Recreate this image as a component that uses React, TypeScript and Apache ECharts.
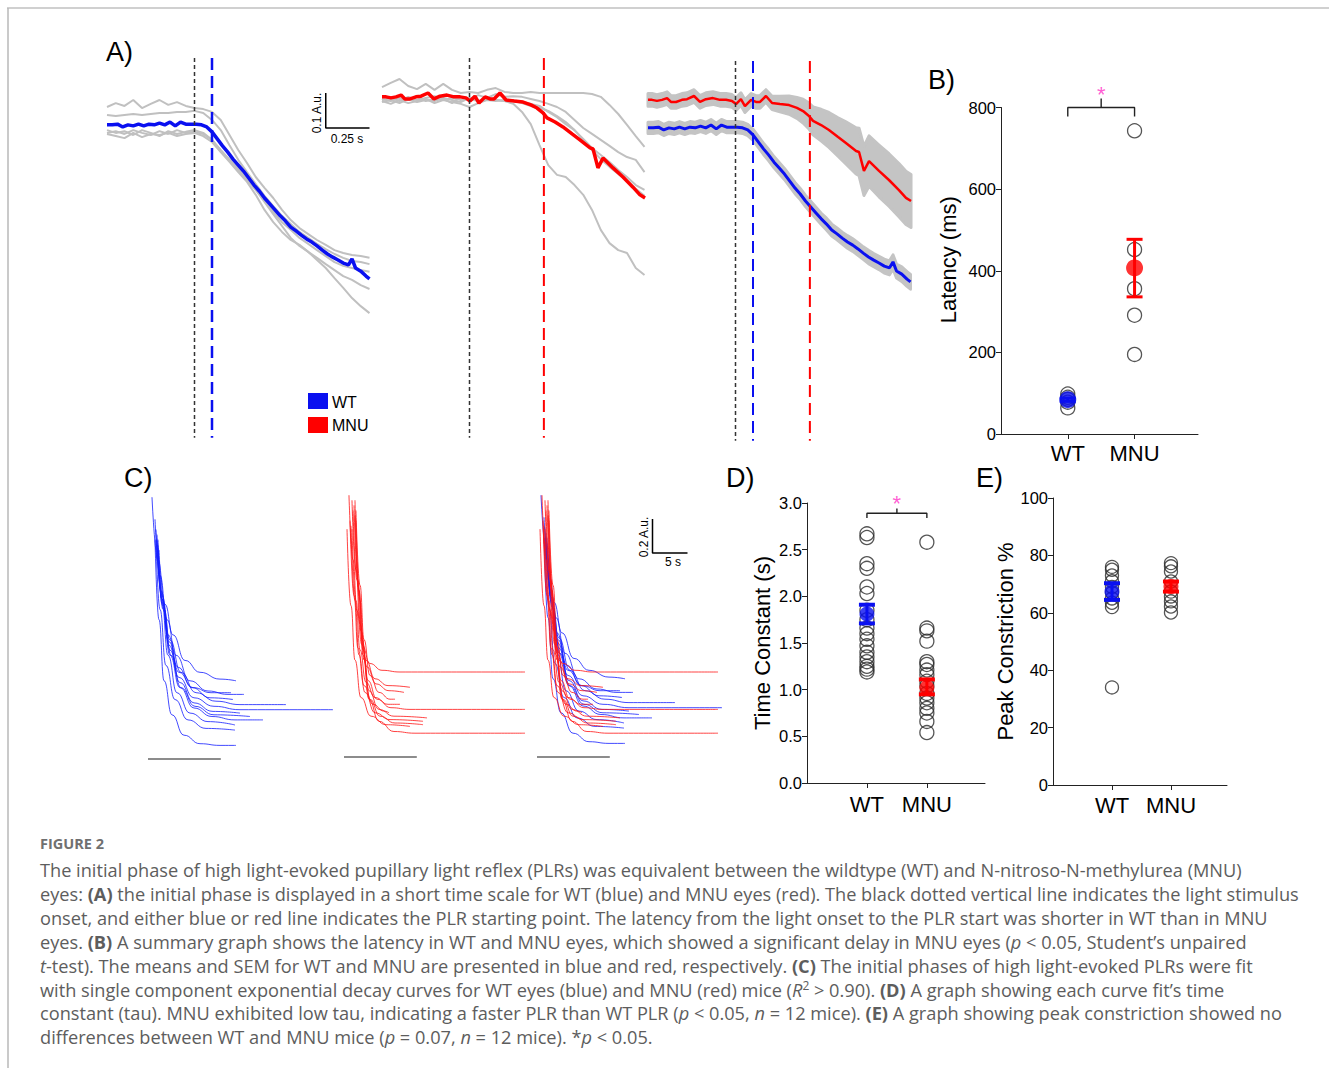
import React, { useEffect, useRef } from "react";
import * as echarts from "echarts";

const FONT = "Liberation Sans, Arial, sans-serif";
const CAP_FONT = "Open Sans, sans-serif";
const BLUE = "#0a10f0";
const RED = "#ff0000";
const TRACE_GRAY = "#c0c0c0";
const STAR = "#ff33c8";

// ---------------- Panel A (short time scale, s ; A.u.) ----------------
const A_STEP = 0.05;
const wtTraces = [
  [0.06, 0.071, 0.063, 0.08, 0.057, 0.069, 0.08, 0.066, 0.074, 0.063, 0.057, 0.054, 0.046, 0.023, -0.02, -0.063, -0.1, -0.14, -0.171, -0.2, -0.234, -0.263, -0.286, -0.303, -0.32, -0.334, -0.349, -0.357, -0.363, -0.366, -0.371],
  [0.037, 0.034, 0.037, 0.04, 0.037, 0.04, 0.043, 0.043, 0.046, 0.046, 0.049, 0.043, 0.023, -0.006, -0.049, -0.091, -0.126, -0.16, -0.194, -0.223, -0.251, -0.274, -0.297, -0.314, -0.331, -0.346, -0.36, -0.371, -0.38, -0.383, -0.389],
  [-0.006, -0.014, -0.009, -0.02, -0.006, -0.014, -0.023, -0.009, -0.017, -0.011, -0.006, -0.014, -0.034, -0.063, -0.091, -0.12, -0.149, -0.177, -0.206, -0.24, -0.269, -0.291, -0.314, -0.331, -0.349, -0.366, -0.383, -0.394, -0.4, -0.406, -0.411],
  [-0.017, -0.023, -0.029, -0.014, -0.026, -0.017, -0.02, -0.014, -0.023, -0.017, -0.014, -0.023, -0.04, -0.069, -0.097, -0.126, -0.154, -0.191, -0.234, -0.269, -0.297, -0.32, -0.334, -0.354, -0.377, -0.4, -0.429, -0.457, -0.486, -0.509, -0.529],
  [-0.014, -0.009, -0.017, -0.006, -0.014, -0.02, -0.009, -0.017, -0.006, -0.014, -0.011, -0.017, -0.034, -0.063, -0.091, -0.114, -0.143, -0.177, -0.211, -0.246, -0.28, -0.314, -0.337, -0.354, -0.371, -0.389, -0.406, -0.423, -0.434, -0.449, -0.46],
];
const mnuTraces = [
  [0.117, 0.129, 0.14, 0.12, 0.111, 0.126, 0.109, 0.126, 0.109, 0.1, 0.103, 0.1, 0.109, 0.114, 0.103, 0.1, 0.1, 0.103, 0.1, 0.1, 0.1, 0.1, 0.1, 0.1, 0.097, 0.089, 0.066, 0.04, 0.009, -0.023, -0.054],
  [0.08, 0.086, 0.077, 0.089, 0.08, 0.086, 0.091, 0.083, 0.071, 0.089, 0.083, 0.094, 0.086, 0.097, 0.089, 0.091, 0.089, 0.083, 0.077, 0.069, 0.06, 0.046, 0.023, 0, -0.017, -0.034, -0.051, -0.069, -0.083, -0.091, -0.126],
  [0.074, 0.08, 0.071, 0.083, 0.074, 0.08, 0.077, 0.086, 0.08, 0.074, 0.086, 0.077, 0.083, 0.08, 0.077, 0.08, 0.074, 0.069, 0.063, 0.046, 0.031, 0.011, -0.006, -0.031, -0.057, -0.077, -0.097, -0.12, -0.14, -0.163, -0.177],
  [0.083, 0.077, 0.086, 0.08, 0.089, 0.077, 0.083, 0.08, 0.086, 0.08, 0.083, 0.077, 0.086, 0.08, 0.077, 0.069, 0.046, 0.011, -0.049, -0.106, -0.134, -0.14, -0.163, -0.191, -0.234, -0.291, -0.329, -0.349, -0.357, -0.4, -0.42],
  [0.077, 0.069, 0.08, 0.071, 0.077, 0.083, 0.071, 0.08, 0.074, 0.069, 0.06, 0.071, 0.08, 0.077, 0.08, 0.077, 0.071, 0.063, 0.057, 0.049, 0.034, 0.017, -0.006, -0.034, -0.063, -0.089, -0.111, -0.131, -0.151, -0.174, -0.194],
];
// [time s, mean A.u., SEM A.u.]
const wtMean = [
  [0, 0.009, 0.016], [0.03, 0.009, 0.016], [0.06, 0.011, 0.016], [0.09, 0.003, 0.016], [0.12, 0.009, 0.016], [0.15, 0.006, 0.016],
  [0.18, 0.011, 0.016], [0.21, 0.006, 0.016], [0.24, 0.011, 0.016], [0.27, 0.009, 0.016], [0.3, 0.014, 0.016], [0.33, 0.009, 0.016],
  [0.36, 0.017, 0.016], [0.39, 0.006, 0.016], [0.42, 0.017, 0.016], [0.45, 0.011, 0.016], [0.48, 0.011, 0.016], [0.51, 0.011, 0.016],
  [0.54, 0.009, 0.016], [0.57, 0.003, 0.016], [0.6, -0.011, 0.016], [0.63, -0.031, 0.016], [0.66, -0.051, 0.016], [0.69, -0.069, 0.016],
  [0.72, -0.089, 0.016], [0.75, -0.106, 0.016], [0.78, -0.123, 0.016], [0.81, -0.143, 0.016], [0.84, -0.163, 0.016], [0.87, -0.18, 0.016],
  [0.9, -0.2, 0.016], [0.93, -0.217, 0.016], [0.96, -0.234, 0.016], [0.99, -0.251, 0.016], [1.02, -0.266, 0.017], [1.05, -0.283, 0.017],
  [1.08, -0.294, 0.017], [1.11, -0.306, 0.017], [1.14, -0.317, 0.018], [1.17, -0.326, 0.018], [1.2, -0.337, 0.018], [1.23, -0.349, 0.018],
  [1.26, -0.36, 0.019], [1.29, -0.369, 0.019], [1.32, -0.377, 0.019], [1.35, -0.386, 0.02], [1.38, -0.391, 0.02], [1.4, -0.374, 0.02],
  [1.42, -0.4, 0.02], [1.45, -0.409, 0.021], [1.48, -0.423, 0.021], [1.5, -0.431, 0.021],
];
const mnuMean = [
  [0, 0.089, 0.018], [0.023, 0.089, 0.018], [0.051, 0.086, 0.018], [0.08, 0.089, 0.018], [0.109, 0.094, 0.018], [0.131, 0.083, 0.018],
  [0.16, 0.083, 0.018], [0.194, 0.089, 0.018], [0.223, 0.091, 0.018], [0.263, 0.1, 0.018], [0.297, 0.083, 0.018], [0.331, 0.091, 0.018],
  [0.371, 0.094, 0.018], [0.411, 0.089, 0.018], [0.446, 0.089, 0.018], [0.48, 0.086, 0.018], [0.503, 0.077, 0.018], [0.531, 0.091, 0.018],
  [0.554, 0.071, 0.018], [0.589, 0.089, 0.018], [0.617, 0.083, 0.018], [0.64, 0.083, 0.018], [0.674, 0.1, 0.018], [0.709, 0.08, 0.019],
  [0.754, 0.077, 0.022], [0.806, 0.074, 0.026], [0.851, 0.066, 0.03], [0.886, 0.057, 0.034], [0.92, 0.043, 0.037], [0.943, 0.029, 0.04],
  [0.989, 0.017, 0.045], [1.034, 0.003, 0.05], [1.086, -0.017, 0.055], [1.131, -0.034, 0.06], [1.189, -0.057, 0.066], [1.206, -0.06, 0.068],
  [1.234, -0.114, 0.07], [1.263, -0.086, 0.072], [1.32, -0.114, 0.074], [1.377, -0.14, 0.075], [1.434, -0.169, 0.076], [1.474, -0.191, 0.076],
  [1.503, -0.2, 0.076],
];
const lightOnset = 0.5;
const wtStart = 0.6;
const mnuStart = 0.925;

// ---------------- Panel B (latency, ms) ----------------
const groups = ["WT", "MNU"];
const latencyWT = [98, 90, 85, 78, 64];
const latencyMNU = [743, 452, 356, 291, 195];
const latencyMean = [84, 407];
const latencyLow = [80, 336];
const latencyHigh = [88, 477];

// ---------------- Panel C (exponential fits: [s, A.u.]) ----------------
const wtFits = [
  [[0.57, 1.54], [1.43, 1.17], [2.43, 0.91], [3.57, 0.73], [5.29, 0.58], [7.43, 0.51], [10.29, 0.47], [12.57, 0.46]],
  [[1.0, 1.41], [1.71, 1.08], [2.71, 0.82], [4.0, 0.61], [6.0, 0.46], [8.57, 0.4], [11.43, 0.38], [13.71, 0.38]],
  [[1.14, 1.35], [1.86, 0.99], [2.86, 0.73], [4.29, 0.54], [6.29, 0.42], [8.86, 0.36], [12.14, 0.35]],
  [[1.29, 1.32], [2.0, 0.96], [3.14, 0.7], [4.71, 0.51], [6.86, 0.39], [9.71, 0.34], [13.14, 0.32], [19.71, 0.32]],
  [[1.29, 1.29], [2.0, 0.94], [3.0, 0.67], [4.43, 0.48], [6.57, 0.36], [9.43, 0.31], [13.14, 0.29], [26.43, 0.29]],
  [[1.43, 1.26], [2.14, 0.88], [3.14, 0.61], [4.57, 0.42], [6.57, 0.3], [9.14, 0.25], [12.43, 0.23], [16.43, 0.23]],
  [[1.43, 1.29], [2.0, 0.91], [2.86, 0.61], [4.14, 0.39], [6.0, 0.27], [8.57, 0.22], [12.43, 0.2]],
  [[1.14, 1.29], [1.71, 0.88], [2.57, 0.55], [3.86, 0.35], [5.71, 0.23], [8.29, 0.18], [12.43, 0.17]],
  [[1.0, 1.29], [1.57, 0.82], [2.29, 0.46], [3.43, 0.26], [5.14, 0.14], [7.43, 0.09], [10.29, 0.08], [12.57, 0.08]],
  [[1.29, 1.26], [2.0, 0.94], [3.0, 0.69], [4.43, 0.51], [6.43, 0.42], [9.0, 0.39], [11.86, 0.39]],
  [[1.43, 1.24], [2.14, 0.91], [3.14, 0.64], [4.57, 0.45], [6.57, 0.33], [9.29, 0.28], [13.14, 0.27]],
  [[1.57, 1.23], [2.29, 0.88], [3.29, 0.61], [4.71, 0.42], [6.71, 0.31], [9.43, 0.26], [14.57, 0.25]],
];
const mnuFits = [
  [[0.71, 1.54], [1.29, 1.16], [1.86, 0.86], [2.57, 0.66], [3.71, 0.55], [5.43, 0.51], [8.0, 0.5], [25.86, 0.5]],
  [[1.14, 1.51], [1.71, 1.1], [2.29, 0.78], [3.14, 0.57], [4.43, 0.46], [6.29, 0.42], [9.43, 0.41]],
  [[1.29, 1.45], [1.86, 1.04], [2.43, 0.74], [3.29, 0.53], [4.57, 0.43], [6.43, 0.39], [8.57, 0.38]],
  [[1.43, 1.48], [2.0, 1.04], [2.57, 0.69], [3.43, 0.45], [4.71, 0.34], [6.71, 0.29], [9.43, 0.28], [25.86, 0.28]],
  [[1.57, 1.42], [2.14, 0.98], [2.71, 0.63], [3.57, 0.39], [5.0, 0.28], [7.14, 0.24], [11.86, 0.23]],
  [[1.0, 1.36], [1.57, 0.92], [2.14, 0.6], [3.0, 0.38], [4.43, 0.26], [6.57, 0.22], [11.29, 0.21]],
  [[1.71, 1.39], [2.29, 0.92], [2.86, 0.57], [3.71, 0.34], [5.14, 0.24], [7.29, 0.2], [11.29, 0.19]],
  [[0.43, 1.34], [1.0, 0.89], [1.57, 0.57], [2.43, 0.35], [3.86, 0.24], [6.0, 0.19], [9.43, 0.18]],
  [[1.57, 1.51], [2.14, 0.98], [2.71, 0.6], [3.57, 0.34], [5.0, 0.21], [7.14, 0.15], [10.14, 0.14], [25.86, 0.14]],
  [[0.86, 1.39], [1.43, 0.95], [2.0, 0.64], [2.86, 0.42], [4.14, 0.31], [5.71, 0.27], [6.43, 0.26]],
  [[1.14, 1.34], [1.71, 0.92], [2.29, 0.63], [3.14, 0.44], [4.43, 0.35], [6.29, 0.31], [8.0, 0.31]],
  [[1.71, 1.45], [2.29, 1.01], [2.86, 0.69], [3.71, 0.48], [5.0, 0.38], [6.57, 0.34], [7.29, 0.34]],
];
const baselineBar = [[0, 0], [10.4, 0]];

// ---------------- Panel D (time constant, s) ----------------
const tauWT = [2.67, 2.63, 2.35, 2.3, 2.1, 2.03, 1.85, 1.75, 1.66, 1.6, 1.54, 1.47, 1.4, 1.35, 1.3, 1.25, 1.22, 1.19];
const tauMNU = [2.58, 1.66, 1.63, 1.52, 1.3, 1.27, 1.21, 1.16, 1.09, 1.04, 0.96, 0.91, 0.86, 0.8, 0.75, 0.66, 0.54];
const tauMean = [1.81, 1.02];
const tauLow = [1.71, 0.95];
const tauHigh = [1.91, 1.11];

// ---------------- Panel E (peak constriction, %) ----------------
const peakWT = [76, 75, 73, 71, 69, 67, 65, 63.5, 62, 34];
const peakMNU = [77.3, 76.2, 74.4, 70.9, 67.4, 65.7, 64, 62.2, 60.1];
const peakMean = [67.4, 69.2];
const peakLow = [64.5, 67.4];
const peakHigh = [70.3, 70.9];

// ---------------- Caption ----------------
const captionTitle = "FIGURE 2";
const captionLines = [
  "The initial phase of high light-evoked pupillary light reflex (PLRs) was equivalent between the wildtype (WT) and N-nitroso-N-methylurea (MNU)",
  "eyes: **(A)** the initial phase is displayed in a short time scale for WT (blue) and MNU eyes (red). The black dotted vertical line indicates the light stimulus",
  "onset, and either blue or red line indicates the PLR starting point. The latency from the light onset to the PLR start was shorter in WT than in MNU",
  "eyes. **(B)** A summary graph shows the latency in WT and MNU eyes, which showed a significant delay in MNU eyes (_p_ < 0.05, Student’s unpaired",
  "_t_-test). The means and SEM for WT and MNU are presented in blue and red, respectively. **(C)** The initial phases of high light-evoked PLRs were fit",
  "with single component exponential decay curves for WT eyes (blue) and MNU (red) mice (_R_^2^ > 0.90). **(D)** A graph showing each curve fit’s time",
  "constant (tau). MNU exhibited low tau, indicating a faster PLR than WT PLR (_p_ < 0.05, _n_ = 12 mice). **(E)** A graph showing peak constriction showed no",
  "differences between WT and MNU mice (_p_ = 0.07, _n_ = 12 mice). *_p_ < 0.05.",
];

function toRich(line: string) {
  const parts = line.split(/(\*\*.+?\*\*|_.+?_|\^.+?\^)/g).filter((s) => s.length);
  return parts
    .map((p) => {
      if (p.startsWith("**")) return `{b|${p.slice(2, -2)}}`;
      if (p.startsWith("_")) return `{i|${p.slice(1, -1)}}`;
      if (p.startsWith("^")) return `{s|${p.slice(1, -1)}}`;
      return `{n|${p}}`;
    })
    .join("");
}

function buildOption() {
  const capColor = "#5d5d5d";
  const capSize = 18.2;
  const rich = {
    n: { fontFamily: CAP_FONT, fontSize: capSize, fill: capColor },
    b: { fontFamily: CAP_FONT, fontSize: capSize, fill: capColor, fontWeight: "bold" },
    i: { fontFamily: CAP_FONT, fontSize: capSize, fill: capColor, fontStyle: "italic" },
    s: { fontFamily: CAP_FONT, fontSize: 12, fill: capColor, padding: [0, 0, 9, 0] },
  };

  const A_MIN = -0.9, A_MAX = 0.2;
  const grids = [
    { left: 107, top: 58, width: 262.5, height: 385 }, // 0 A1
    { left: 382, top: 58, width: 262.5, height: 385 }, // 1 A2
    { left: 648, top: 61, width: 262.5, height: 385 }, // 2 A3
    { left: 1001, top: 107.5, width: 197, height: 326.5 }, // 3 B
    { left: 148, top: 487, width: 196, height: 272 }, // 4 C1
    { left: 344, top: 485, width: 196, height: 272 }, // 5 C2
    { left: 537, top: 485, width: 196, height: 272 }, // 6 C3
    { left: 807, top: 503, width: 178, height: 280 }, // 7 D
    { left: 1053, top: 498, width: 174, height: 287 }, // 8 E
  ].map((g) => ({ ...g, containLabel: false, outerBoundsMode: "none" }));

  const hiddenX = (g: number, min: number, max: number) => ({ gridIndex: g, type: "value", min, max, show: false });
  const hiddenY = hiddenX;

  const statX = (g: number, max: number, margin: number) => ({
    gridIndex: g, type: "value", min: 0, max, interval: 1,
    axisLine: { show: true, onZero: false, lineStyle: { color: "#222", width: 1 } },
    axisTick: { show: true, length: 5, customValues: [1, 2], lineStyle: { color: "#222" } },
    axisLabel: {
      customValues: [1, 2], fontSize: 22, fontFamily: FONT, color: "#000", margin,
      formatter: (v: number) => groups[Math.round(v) - 1] ?? "",
    },
    splitLine: { show: false },
  });
  const statY = (g: number, max: number, interval: number, name: string, nameGap: number, shiftUp: number, fmt?: (v: number) => string) => ({
    gridIndex: g, type: "value", min: 0, max, interval,
    axisLine: { show: true, lineStyle: { color: "#222", width: 1 } },
    axisTick: { show: true, length: 5, lineStyle: { color: "#222" } },
    axisLabel: { fontSize: 16.5, fontFamily: FONT, color: "#000", margin: 5, formatter: fmt },
    splitLine: { show: false },
    name, nameLocation: "middle", nameGap,
    nameTextStyle: { fontSize: 22, fontFamily: FONT, color: "#000", padding: [0, 0, 0, shiftUp * 2] },
  });

  const xAxis = [
    hiddenX(0, 0, 1.5), hiddenX(1, 0, 1.5), hiddenX(2, 0, 1.5),
    statX(3, 2.95, 8),
    hiddenX(4, 0, 28), hiddenX(5, 0, 28), hiddenX(6, 0, 28),
    statX(7, 2.97, 10),
    statX(8, 2.95, 9),
  ];
  const yAxis = [
    hiddenY(0, A_MIN, A_MAX), hiddenY(1, A_MIN, A_MAX), hiddenY(2, A_MIN, A_MAX),
    statY(3, 800, 200, "Latency (ms)", 42, 11),
    hiddenY(4, 0, 1.6), hiddenY(5, 0, 1.6), hiddenY(6, 0, 1.6),
    statY(7, 3, 0.5, "Time Constant (s)", 34, 0, (v: number) => v.toFixed(1)),
    statY(8, 100, 20, "Peak Constriction %", 37, 0),
  ];

  const series: any[] = [];
  const line = (g: number, data: any[], color: string, width: number, extra: any = {}) =>
    series.push({
      type: "line", xAxisIndex: g, yAxisIndex: g, data, symbol: "none", silent: true, clip: false,
      lineStyle: { color, width, ...(extra.lineStyle || {}) }, z: extra.z ?? 2,
      ...(extra.smooth ? { smooth: extra.smooth, smoothMonotone: "x" } : {}),
    });
  const tracePts = (vals: number[]) => vals.map((v, i) => [+(i * A_STEP).toFixed(3), v]);
  const meanPts = (m: number[][]) => m.map((p) => [p[0], p[1]]);
  const vline = (g: number, t: number, color: string, width: number, dash: number[]) =>
    line(g, [[t, A_MAX], [t, -0.885]], color, width, { lineStyle: { type: dash }, z: 5 });
  const band = (g: number, m: number[][]) =>
    series.push({
      type: "custom", xAxisIndex: g, yAxisIndex: g, silent: true, z: 1, clip: false,
      data: [[m[0][0], m[0][1]]],
      renderItem: (_p: any, api: any) => {
        const up = m.map((p) => api.coord([p[0], p[1] + p[2]]));
        const lo = m.map((p) => api.coord([p[0], p[1] - p[2]])).reverse();
        return { type: "polygon", shape: { points: up.concat(lo) }, style: { fill: "#c4c4c4", stroke: "#c4c4c4", lineWidth: 3, lineJoin: "round" } };
      },
    });

  // Panel A1 (WT)
  wtTraces.forEach((tr) => line(0, tracePts(tr), TRACE_GRAY, 2));
  line(0, meanPts(wtMean), BLUE, 3.5, { z: 3 });
  vline(0, lightOnset, "#333", 1.5, [4, 3]);
  vline(0, wtStart, BLUE, 2.5, [12, 6]);
  line(0, [[1.25, 0.1], [1.25, 0], [1.5, 0]], "#000", 1.5);
  // Panel A2 (MNU)
  mnuTraces.forEach((tr) => line(1, tracePts(tr), TRACE_GRAY, 2));
  line(1, meanPts(mnuMean), RED, 3.5, { z: 3 });
  vline(1, lightOnset, "#333", 1.5, [4, 3]);
  vline(1, mnuStart, RED, 2, [12, 6]);
  // Panel A3 (both, mean +/- SEM)
  band(2, mnuMean);
  band(2, wtMean);
  line(2, meanPts(mnuMean), RED, 2.5, { z: 3 });
  line(2, meanPts(wtMean), BLUE, 3, { z: 3 });
  vline(2, lightOnset, "#333", 1.5, [4, 3]);
  vline(2, wtStart, BLUE, 2, [12, 6]);
  vline(2, mnuStart, RED, 2, [12, 6]);

  const openDots = (g: number, vals: number[], x: number, size: number) =>
    series.push({
      type: "scatter", xAxisIndex: g, yAxisIndex: g, silent: true, z: 2, clip: false,
      data: vals.map((v) => [x, v]), symbol: "circle", symbolSize: size,
      itemStyle: { color: "rgba(255,255,255,0)", borderColor: "#2a2a2a", borderWidth: 1.3 },
    });
  const means = (g: number, vals: number[], size: number) =>
    series.push({
      type: "scatter", xAxisIndex: g, yAxisIndex: g, silent: true, z: 5, clip: false,
      data: vals.map((v, i) => ({ value: [i + 1, v], itemStyle: { color: i === 0 ? BLUE : RED } })),
      symbol: "circle", symbolSize: size,
    });
  const errBars = (g: number, lows: number[], highs: number[], capW: number, lw: number, capH: number) =>
    series.push({
      type: "custom", xAxisIndex: g, yAxisIndex: g, silent: true, z: 4, clip: false,
      data: lows.map((l, i) => [i + 1, l, highs[i]]),
      renderItem: (params: any, api: any) => {
        const x = api.value(0), lo = api.value(1), hi = api.value(2);
        const a = api.coord([x, lo]), b = api.coord([x, hi]);
        const c = params.dataIndex === 0 ? BLUE : RED;
        return {
          type: "group",
          children: [
            { type: "line", shape: { x1: a[0], y1: a[1], x2: b[0], y2: b[1] }, style: { stroke: c, lineWidth: lw } },
            { type: "line", shape: { x1: a[0] - capW / 2, y1: a[1], x2: a[0] + capW / 2, y2: a[1] }, style: { stroke: c, lineWidth: capH } },
            { type: "line", shape: { x1: b[0] - capW / 2, y1: b[1], x2: b[0] + capW / 2, y2: b[1] }, style: { stroke: c, lineWidth: capH } },
          ],
        };
      },
    });
  const bracket = (g: number, yBar: number, yEnd: number, yNub: number, yStar: number) => {
    line(g, [[1, yEnd], [1, yBar], [1.5, yBar], [1.5, yNub], [1.5, yBar], [2, yBar], [2, yEnd]], "#222", 1.4, { z: 6 });
    series.push({
      type: "scatter", xAxisIndex: g, yAxisIndex: g, silent: true, z: 6, clip: false,
      data: [[1.5, yStar]], symbolSize: 1, itemStyle: { color: "rgba(0,0,0,0)" },
      label: { show: true, position: "inside", formatter: "*", fontSize: 22, fontFamily: FONT, color: STAR },
    });
  };

  // Panel B
  openDots(3, latencyWT, 1, 14);
  openDots(3, latencyMNU, 2, 14);
  errBars(3, latencyLow, latencyHigh, 16, 3, 3);
  means(3, latencyMean, 17);
  bracket(3, 800, 778, 822, 832);

  // Panel C
  [4, 5, 6].forEach((g) => line(g, baselineBar, "#8c8c8c", 2));
  const cBlue = "rgba(20,30,255,0.8)";
  const cRed = "rgba(255,20,20,0.8)";
  wtFits.forEach((c) => line(4, c, cBlue, 1, { smooth: 0.5 }));
  mnuFits.forEach((c) => line(5, c, cRed, 1, { smooth: 0.5 }));
  wtFits.forEach((c) => line(6, c, cBlue, 1, { smooth: 0.5 }));
  mnuFits.forEach((c) => line(6, c, cRed, 1, { smooth: 0.5 }));
  line(6, [[16.5, 1.4], [16.5, 1.2], [21.5, 1.2]], "#000", 1.5);

  // Panel D
  openDots(7, tauWT, 1, 14);
  openDots(7, tauMNU, 2, 14);
  errBars(7, tauLow, tauHigh, 16, 3, 4);
  means(7, tauMean, 15);
  bracket(7, 2.89, 2.84, 2.94, 2.99);

  // Panel E
  openDots(8, peakWT, 1, 13);
  openDots(8, peakMNU, 2, 13);
  errBars(8, peakLow, peakHigh, 16, 3, 4);
  means(8, peakMean, 15);

  const txt = (x: number, y: number, text: string, size: number, extra: any = {}) => ({
    type: "text", x, y, silent: true, rotation: extra.rotation || 0,
    style: {
      text, fontSize: size, fontFamily: extra.family || FONT, fill: extra.fill || "#000",
      align: extra.align || "left", verticalAlign: "middle", fontWeight: extra.weight || "normal",
    },
  });

  const graphic: any[] = [
    { type: "line", shape: { x1: 7, y1: 8, x2: 1329, y2: 8 }, style: { stroke: "#d0d0d0", lineWidth: 2 }, silent: true },
    { type: "line", shape: { x1: 8, y1: 8, x2: 8, y2: 1068 }, style: { stroke: "#b8b8b8", lineWidth: 1.5 }, silent: true },
    txt(106, 52, "A)", 27),
    txt(928, 80, "B)", 27),
    txt(124, 478, "C)", 27),
    txt(726, 478, "D)", 27),
    txt(976, 478, "E)", 27),
    txt(317, 113, "0.1 A.u.", 12, { rotation: Math.PI / 2, align: "center" }),
    txt(347, 139, "0.25 s", 12, { align: "center" }),
    txt(644, 537, "0.2 A.u.", 12, { rotation: Math.PI / 2, align: "center" }),
    txt(673, 562, "5 s", 12, { align: "center" }),
    { type: "rect", shape: { x: 308, y: 393, width: 20, height: 16 }, style: { fill: BLUE }, silent: true },
    { type: "rect", shape: { x: 308, y: 417, width: 20, height: 16 }, style: { fill: RED }, silent: true },
    txt(332, 402, "WT", 16),
    txt(332, 425, "MNU", 16),
    txt(40, 843, captionTitle, 14.5, { family: CAP_FONT, fill: "#707070", weight: "bold" }),
  ];
  captionLines.forEach((l, i) => {
    graphic.push({
      type: "text", x: 40, y: 870 + i * 23.9, silent: true,
      style: { text: toRich(l), rich, fontSize: capSize, fontFamily: CAP_FONT, fill: capColor, verticalAlign: "middle", align: "left" },
    });
  });

  return {
    animation: false,
    backgroundColor: "#ffffff",
    grid: grids,
    xAxis,
    yAxis,
    series,
    graphic: { elements: graphic },
  };
}

export default function App() {
  const ref = useRef<HTMLDivElement>(null);
  useEffect(() => {
    document.body.style.margin = "0";
    const chart = echarts.init(ref.current!, null, { renderer: "svg", width: 1329, height: 1068 });
    chart.setOption(buildOption() as any);
    return () => chart.dispose();
  }, []);
  return (
    <div
      ref={ref}
      style={{ position: "absolute", left: 0, top: 0, width: 1329, height: 1068, background: "#fff" }}
    />
  );
}
